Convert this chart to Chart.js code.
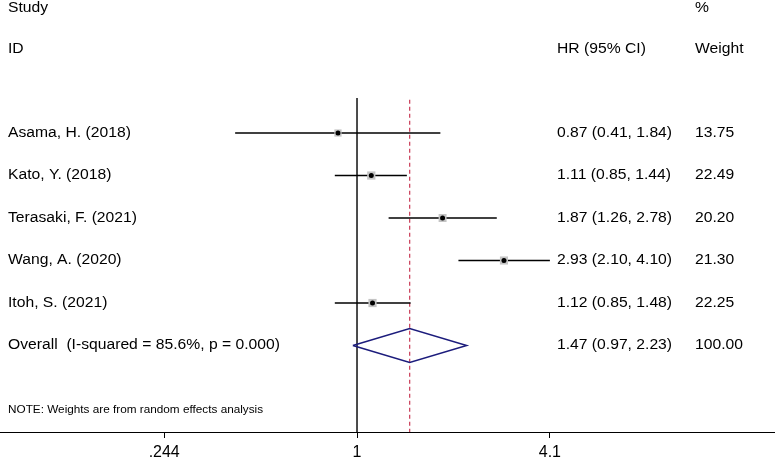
<!DOCTYPE html>
<html>
<head>
<meta charset="utf-8">
<script src="https://cdn.jsdelivr.net/npm/chart.js@4/dist/chart.umd.min.js"></script>
<style>
html,body{margin:0;padding:0;background:#fff;}
canvas{display:block;}
</style>
</head>
<body>
<canvas id="c" width="775" height="458"></canvas>
<script>
// ---- data ----
const studies = ["Asama, H. (2018)", "Kato, Y. (2018)", "Terasaki, F. (2021)", "Wang, A. (2020)", "Itoh, S. (2021)"];
const hr      = [0.87, 1.11, 1.87, 2.93, 1.12];
const lower   = [0.41, 0.85, 1.26, 2.10, 0.85];
const upper   = [1.84, 1.44, 2.78, 4.10, 1.48];
const weights = [13.75, 22.49, 20.20, 21.30, 22.25];
const overallLabel = "Overall  (I-squared = 85.6%, p = 0.000)";
const overall = { hr: 1.47, lower: 0.97, upper: 2.23, weight: 100.00 };
const tickValues = [0.244, 1, 4.1];
const tickLabels = [".244", "1", "4.1"];
const note = "NOTE: Weights are from random effects analysis";

const fmt = v => v.toFixed(2);
const FONT = "'Liberation Sans', Arial, sans-serif";
const SX = 1.12; // horizontal stretch of text in the reference

const overallRow = studies.length + 1;
const datasets = [];

// reference line at 1 and dashed overall line
datasets.push({ type:'line', data:[{x:1,y:0},{x:1,y:10}], borderColor:'#333', borderWidth:1, pointRadius:0, order:5 });
datasets.push({ type:'line', data:[{x:overall.hr,y:0.05},{x:overall.hr,y:10}], borderColor:'#c83a55', borderWidth:1.2, borderDash:[4,3], pointRadius:0, order:5 });

// CI lines
studies.forEach((s,i)=>{
  datasets.push({ type:'line', data:[{x:lower[i],y:i+1},{x:upper[i],y:i+1}], borderColor:'#000', borderWidth:1.5, pointRadius:0, order:3 });
});
// weight boxes
datasets.push({ type:'scatter', data: studies.map((s,i)=>({x:hr[i], y:i+1})),
  pointStyle:'rect', pointRadius: weights.map(w=>2.5 + Math.sqrt(w)*0.7), backgroundColor:'#c4c4c4', borderWidth:0, order:2 });
// point estimates
datasets.push({ type:'scatter', data: studies.map((s,i)=>({x:hr[i], y:i+1})),
  pointStyle:'circle', pointRadius:2.5, backgroundColor:'#000', borderWidth:0, order:1 });
// diamond
const dh = 0.4;
datasets.push({ type:'line', data:[
  {x:overall.lower,y:overallRow},{x:overall.hr,y:overallRow-dh},{x:overall.upper,y:overallRow},{x:overall.hr,y:overallRow+dh},{x:overall.lower,y:overallRow}
], borderColor:'#1c1c7c', borderWidth:1.5, pointRadius:0, tension:0, order:1 });

const textPlugin = {
  id:'forestText',
  afterDraw(chart){
    const ctx = chart.ctx, ys = chart.scales.y;
    ctx.save();
    ctx.scale(SX, 1);
    ctx.fillStyle = '#000';
    ctx.textBaseline = 'middle';
    ctx.textAlign = 'left';
    ctx.font = "14px " + FONT;
    const put = (t, x, y) => ctx.fillText(t, x / SX, y);
    const colStudy = 8, colHR = 557, colW = 695;
    put("Study", colStudy, ys.getPixelForValue(-1.95));
    put("%", colW, ys.getPixelForValue(-1.95));
    put("ID", colStudy, ys.getPixelForValue(-0.98));
    put("HR (95% CI)", colHR, ys.getPixelForValue(-0.98));
    put("Weight", colW, ys.getPixelForValue(-0.98));
    studies.forEach((s,i)=>{
      const y = ys.getPixelForValue(i+1);
      put(s, colStudy, y);
      put(fmt(hr[i])+" ("+fmt(lower[i])+", "+fmt(upper[i])+")", colHR, y);
      put(fmt(weights[i]), colW, y);
    });
    const yo = ys.getPixelForValue(overallRow);
    put(overallLabel, colStudy, yo);
    put(fmt(overall.hr)+" ("+fmt(overall.lower)+", "+fmt(overall.upper)+")", colHR, yo);
    put(fmt(overall.weight), colW, yo);
    ctx.font = "10.5px " + FONT;
    put(note, colStudy, ys.getPixelForValue(7.52));
    ctx.restore();
  }
};

new Chart(document.getElementById('c'), {
  data:{ datasets },
  options:{
    responsive:false, animation:false,
    layout:{ autoPadding:false, padding:{ top:98, left:0, right:0, bottom:0 } },
    plugins:{ legend:{display:false}, tooltip:{enabled:false} },
    scales:{
      x:{
        type:'logarithmic', min:0.0734, max:21.28,
        afterBuildTicks: sc => { sc.ticks = tickValues.map(v=>({value:v})); },
        afterFit: sc => { sc.height = 26; },
        ticks:{ callback:(v,i)=>tickLabels[i], color:'#000', font:{family:FONT, size:16}, padding:5, autoSkip:false, maxRotation:0 },
        grid:{ drawOnChartArea:false, drawTicks:true, tickLength:6, color:'#000' },
        border:{ display:true, color:'#000', width:1 }
      },
      y:{ type:'linear', display:false, reverse:true, min:0.176, max:8.035 }
    }
  },
  plugins:[textPlugin]
});
</script>
</body>
</html>
